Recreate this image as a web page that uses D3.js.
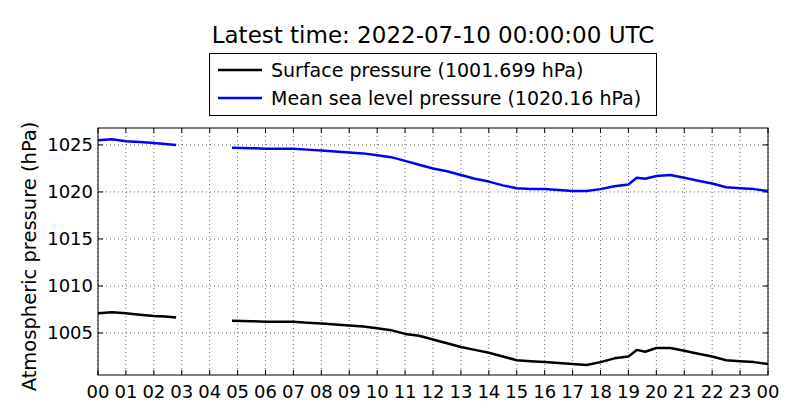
<!DOCTYPE html>
<html><head><meta charset="utf-8">
<script src="https://cdn.jsdelivr.net/npm/d3@7"></script>
<style>body{margin:0;background:#fff}svg{font-family:"DejaVu Sans",sans-serif}</style>
</head><body><svg id="c" width="800" height="420"></svg>
<script>
const hoursA=[0,0.5,1,1.5,2,2.4,2.8];
const mslA=[1025.5,1025.6,1025.4,1025.3,1025.2,1025.1,1025.0];
const sfcA=[1007.1,1007.2,1007.1,1006.95,1006.8,1006.75,1006.65];
const hoursB=[4.8,5.5,6,6.5,7,7.5,8,8.5,9,9.5,10,10.5,11,11.5,12,12.5,13,13.5,14,14.5,15,15.5,16,16.5,17,17.5,18,18.5,19,19.3,19.6,20,20.5,21,21.5,22,22.5,23,23.5,24];
const mslB=[1024.7,1024.65,1024.6,1024.6,1024.6,1024.5,1024.4,1024.3,1024.2,1024.1,1023.9,1023.7,1023.3,1022.9,1022.5,1022.2,1021.8,1021.4,1021.1,1020.7,1020.4,1020.3,1020.3,1020.2,1020.1,1020.1,1020.3,1020.6,1020.8,1021.5,1021.4,1021.7,1021.8,1021.5,1021.2,1020.9,1020.5,1020.4,1020.3,1020.1];
const sfcB=[1006.3,1006.25,1006.2,1006.2,1006.2,1006.1,1006.0,1005.9,1005.8,1005.7,1005.5,1005.3,1004.9,1004.7,1004.3,1003.9,1003.5,1003.2,1002.9,1002.5,1002.1,1002.0,1001.9,1001.8,1001.7,1001.6,1001.9,1002.3,1002.5,1003.2,1003.0,1003.4,1003.4,1003.1,1002.8,1002.5,1002.1,1002.0,1001.9,1001.7];
const xTicks=d3.range(0,25);
const xLabels=xTicks.map(h=>String(h%24).padStart(2,"0"));
const yTicks=[1005,1010,1015,1020,1025];
const title="Latest time: 2022-07-10 00:00:00 UTC";
const legend=[["Surface pressure (1001.699 hPa)","#000"],["Mean sea level pressure (1020.16 hPa)","#0000ff"]];

const svg=d3.select("#c");
const L=98,R=768,T=128,B=375;
const x=d3.scaleLinear().domain([0,24]).range([L,R]);
const y=d3.scaleLinear().domain([1000.53,1026.8]).range([B,T]);
const g=svg.append("g");
xTicks.forEach(t=>g.append("line").attr("x1",x(t)).attr("x2",x(t)).attr("y1",T).attr("y2",B).attr("stroke","#000").attr("stroke-width",0.6).attr("stroke-dasharray","1,3"));
yTicks.forEach(t=>g.append("line").attr("y1",y(t)).attr("y2",y(t)).attr("x1",L).attr("x2",R).attr("stroke","#000").attr("stroke-width",0.6).attr("stroke-dasharray","1,3"));
const line=d3.line().x(d=>x(d[0])).y(d=>y(d[1]));
const seg=(h,v,c)=>g.append("path").attr("d",line(h.map((a,i)=>[a,v[i]]))).attr("fill","none").attr("stroke",c).attr("stroke-width",2.5).attr("stroke-linejoin","round");
seg(hoursA,sfcA,"#000");seg(hoursB,sfcB,"#000");
seg(hoursA,mslA,"#0000ff");seg(hoursB,mslB,"#0000ff");
xTicks.forEach(t=>{g.append("line").attr("x1",x(t)).attr("x2",x(t)).attr("y1",B).attr("y2",B-5).attr("stroke","#000");
 g.append("line").attr("x1",x(t)).attr("x2",x(t)).attr("y1",T).attr("y2",T+5).attr("stroke","#000");});
yTicks.forEach(t=>{g.append("line").attr("y1",y(t)).attr("y2",y(t)).attr("x1",L).attr("x2",L+5).attr("stroke","#000");
 g.append("line").attr("y1",y(t)).attr("y2",y(t)).attr("x1",R).attr("x2",R-5).attr("stroke","#000");});
g.append("rect").attr("x",L).attr("y",T).attr("width",R-L).attr("height",B-T).attr("fill","none").attr("stroke","#000");
xTicks.forEach((t,i)=>g.append("text").attr("x",x(t)).attr("y",B+23).attr("text-anchor","middle").attr("font-size",18).text(xLabels[i]));
yTicks.forEach(t=>g.append("text").attr("x",L-5).attr("y",y(t)+6.5).attr("text-anchor","end").attr("font-size",18).text(t));
g.append("text").attr("transform",`translate(36,${(T+B)/2+5}) rotate(-90)`).attr("text-anchor","middle").attr("font-size",19.5).text("Atmospheric pressure (hPa)");
g.append("text").attr("x",433).attr("y",43).attr("text-anchor","middle").attr("font-size",23).text(title);
g.append("rect").attr("x",209.5).attr("y",53.5).attr("width",447).attr("height",62).attr("fill","#fff").attr("stroke","#000");
legend.forEach((l,i)=>{const yy=70+i*28;
 g.append("line").attr("x1",218).attr("x2",262).attr("y1",yy).attr("y2",yy).attr("stroke",l[1]).attr("stroke-width",2.5);
 g.append("text").attr("x",271).attr("y",yy+7).attr("font-size",19).text(l[0]);});
</script></body></html>
